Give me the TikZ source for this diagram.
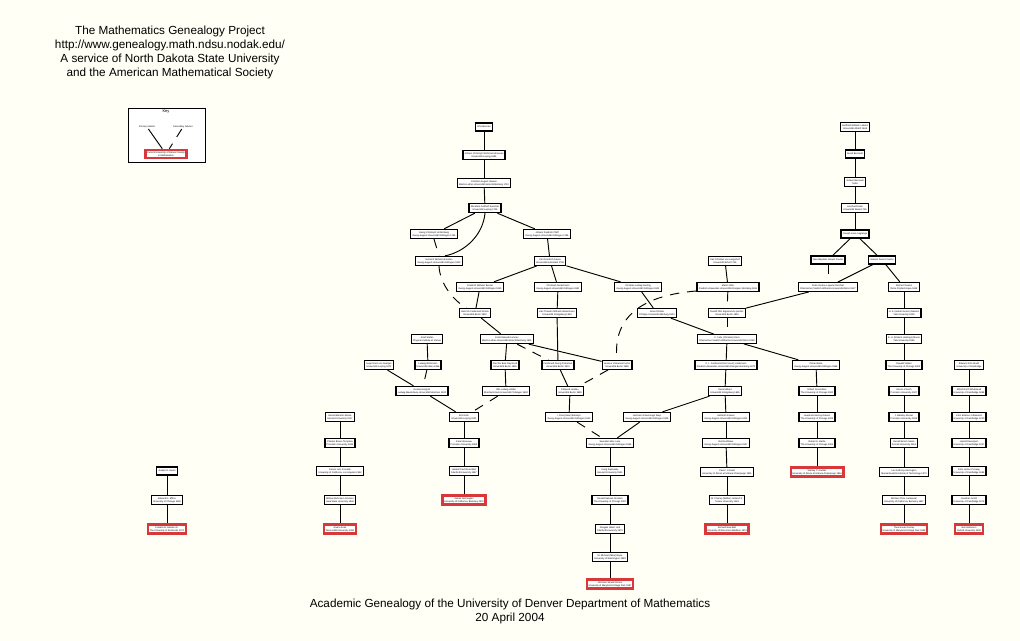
\documentclass[tikz,border=0pt]{standalone}
\usepackage{fontspec}
\setmainfont{Liberation Sans}
\definecolor{bg}{HTML}{FFFFF5}
\definecolor{mgred}{HTML}{D8383A}
\begin{document}
\begin{tikzpicture}[x=0.75pt,y=-0.75pt,
  pn/.style={draw=black,line width=1pt,fill=white,align=center,font=\fontsize{1.75}{2.3}\selectfont,inner xsep=1.3pt,inner ysep=1.4pt,minimum height=6pt},
  rn/.style={pn,draw=mgred,line width=1.6pt},
  ed/.style={line width=0.7pt},
  sd/.style={ed,dash pattern=on 7pt off 6pt},
  ttl/.style={font=\fontsize{8.8}{10.5}\selectfont,align=center,inner sep=0pt}]
\fill[bg] (0,0) rectangle (1020,641);
\useasboundingbox (0,0) rectangle (1020,641);

\node[ttl] (title) at (170,52) {The Mathematics Genealogy Project\\http://www.genealogy.math.ndsu.nodak.edu/\\A service of North Dakota State University\\and the American Mathematical Society};
\node[ttl] (bottom) at (510,611) {Academic Genealogy of the University of Denver Department of Mathematics\\20 April 2004};

% key
\node[draw,line width=0.5pt,fill=white,minimum width=57.75pt,minimum height=40.5pt] (keybox) at (166.5,135) {};
\node[font=\fontsize{3}{3.5}\selectfont,inner sep=0pt] (keyt) at (166,112) {Key};
\node[font=\fontsize{1.75}{2.3}\selectfont,inner sep=0.5pt] (kprim) at (147,127) {Primary Advisor};
\node[font=\fontsize{1.75}{2.3}\selectfont,inner sep=0.5pt] (ksec) at (183,127) {Secondary Advisor};
\node[rn] (kfac) at (166,154) {Current University of Denver Faculty\\in Mathematics};
\draw[ed] (kprim) -- (kfac);
\draw[sd] (ksec) -- (kfac);

% top left column
\node[pn] (mencke) at (484,127) {Otto Mencke};
\node[pn] (wich) at (484,155) {Johann Christoph Wichmannshausen\\Universität Leipzig 1685};
\node[pn] (hausen) at (484,183) {Christian August Hausen\\Martin-Luther-Universität Halle-Wittenberg 1713};
\node[pn] (kaestner) at (485,208) {Abraham Gotthelf Kaestner\\Universität Leipzig 1739};
\node[pn] (lichtenberg) at (434,234) {Georg Christoph Lichtenberg\\Georg-August-Universität Göttingen 1765};
\node[pn] (pfaff) at (547,234) {Johann Friedrich Pfaff\\Georg-August-Universität Göttingen 1786};
\node[pn] (brandes) at (439,261) {Heinrich Wilhelm Brandes\\Georg-August-Universität Göttingen 1800};
\node[pn] (gauss) at (550,261) {Carl Friedrich Gauss\\Universität Helmstedt 1799};
\node[pn] (bessel) at (480,287) {Friedrich Wilhelm Bessel\\Georg-August-Universität Göttingen 1810};
\node[pn] (gudermann) at (558,287) {Christoph Gudermann\\Georg-August-Universität Göttingen 1841};
\node[pn] (gerling) at (638,287) {Christian Ludwig Gerling\\Georg-August-Universität Göttingen 1812};
\node[pn] (scherk) at (475,313) {Heinrich Ferdinand Scherk\\Universität Berlin 1823};
\node[pn] (weierstrass) at (557,313) {Karl Theodor Wilhelm Weierstrass\\Universität Königsberg 1854};
\node[pn] (plucker) at (657,313) {Julius Plücker\\Philipps-Universität Marburg 1823};
\node[pn] (stefan) at (427,339) {Josef Stefan\\Physical Institute at Vienna};
\node[pn] (kummer) at (507,339) {Ernst Eduard Kummer\\Martin-Luther-Universität Halle-Wittenberg 1831};

% right top column
\node[pn] (leibniz) at (855,127) {Gottfried Wilhelm Leibniz\\Universität Altdorf 1666};
\node[pn] (jbern) at (855,154) {Jacob Bernoulli};
\node[pn] (jobern) at (855,182) {Johann Bernoulli\\1694};
\node[pn] (euler) at (855,208) {Leonhard Euler\\Universität Basel 1726};
\node[pn] (lagrange) at (855,234) {Joseph Louis Lagrange};
\node[pn] (fourier) at (828,260) {Jean-Baptiste Joseph Fourier};
\node[pn] (poisson) at (882,260) {Siméon Denis Poisson};
\node[pn] (langsdorf) at (725,261) {Karl Christian von Langsdorf\\Universität Erfurt 1781};
\node[pn] (ohm) at (728,287) {Martin Ohm\\Friedrich-Alexander-Universität Erlangen-Nürnberg 1811};
\node[pn] (dirichlet) at (828,287) {Peter Gustav Lejeune Dirichlet\\Rheinische Friedrich-Wilhelms-Universität Bonn 1827};
\node[pn] (chasles) at (904,287) {Michel Chasles\\École Polytechnique 1814};
\node[pn] (lipschitz) at (727,313) {Rudolf Otto Sigismund Lipschitz\\Universität Berlin 1853};
\node[pn] (newton) at (904,313) {H. A. (Hubert Anson) Newton\\Yale University 1850};
\node[pn] (klein) at (727,339) {C. Felix (Christian) Klein\\Rheinische Friedrich-Wilhelms-Universität Bonn 1868};
\node[pn] (moore) at (904,339) {E. H. (Eliakim Hastings) Moore\\Yale University 1885};

% row 365
\node[pn] (seeliger) at (379,365) {Hugo Hans von Seeliger\\Universität Leipzig 1872};
\node[pn] (boltzmann) at (428,365) {Ludwig Boltzmann\\Universität Wien 1866};
\node[pn] (dubois) at (505,365) {Paul Du Bois-Reymond\\Universität Berlin 1859};
\node[pn] (frobenius) at (558,365) {Ferdinand Georg Frobenius\\Universität Berlin 1870};
\node[pn] (fuchs) at (617,365) {Lazarus Immanuel Fuchs\\Universität Berlin 1858};
\node[pn] (lindemann) at (726,365) {C. L. Ferdinand (Carl Louis) Lindemann\\Friedrich-Alexander-Universität Erlangen-Nürnberg 1873};
\node[pn] (bolza) at (816,365) {Oskar Bolza\\Georg-August-Universität Göttingen 1886};
\node[pn] (veblen) at (904,365) {Oswald Veblen\\The University of Chicago 1903};
\node[pn] (c1) at (969,365) {Edward John Routh\\University of Cambridge};

% row 391
\node[pn] (herglotz) at (422,391) {Gustav Herglotz\\Ludwig-Maximilians-Universität München 1900};
\node[pn] (holder) at (506,391) {Otto Ludwig Hölder\\Eberhard-Karls-Universität Tübingen 1882};
\node[pn] (landau) at (570,391) {Edmund Landau\\Universität Berlin 1899};
\node[pn] (hilbert) at (725,391) {David Hilbert\\Universität Königsberg 1885};
\node[pn] (bliss) at (817,391) {Gilbert Ames Bliss\\The University of Chicago 1900};
\node[pn] (church) at (904,391) {Alonzo Church\\Princeton University 1927};
\node[pn] (c2) at (969,391) {Alfred North Whitehead\\University of Cambridge 1884};

% row 417
\node[pn] (a1) at (340,417) {Harold Marston Morse\\Harvard University 1917};
\node[pn] (artin) at (464,417) {Emil Artin\\Universität Leipzig 1921};
\node[pn] (bernays) at (569,417) {I. Paul (Isaac) Bernays\\Georg-August-Universität Göttingen 1912};
\node[pn] (weyl) at (647,417) {Hermann Klaus Hugo Weyl\\Georg-August-Universität Göttingen 1908};
\node[pn] (kneser) at (726,417) {Hellmuth Kneser\\Georg-August-Universität Göttingen 1921};
\node[pn] (graves) at (817,417) {Lawrence Murray Graves\\The University of Chicago 1924};
\node[pn] (rosser) at (904,417) {J. Barkley Rosser\\Princeton University 1934};
\node[pn] (c3) at (969,417) {John Edensor Littlewood\\University of Cambridge 1910};

% row 443
\node[pn] (a2) at (340,443) {Charles Brown Tompkins\\Princeton University 1935};
\node[pn] (deleeuw) at (464,443) {Karel deLeeuw\\Princeton University 1954};
\node[pn] (maclane) at (610,443) {Saunders Mac Lane\\Georg-August-Universität Göttingen 1934};
\node[pn] (baer) at (726,443) {Reinhold Baer\\Georg-August-Universität Göttingen 1927};
\node[pn] (bartle) at (817,443) {Robert G. Bartle\\The University of Chicago 1951};
\node[pn] (sacks) at (904,443) {Gerald Enoch Sacks\\Cornell University 1961};
\node[pn] (c4) at (969,443) {Harold Davenport\\University of Cambridge 1937};

% row 471
\node[pn] (f1) at (167,471) {Joseph H. Hersh};
\node[pn] (a3) at (340,471) {James Linn Cornette\\University of California, Los Angeles 1962};
\node[pn] (rosenthal) at (464,471) {Haskell Paul Rosenthal\\Stanford University 1967};
\node[pn] (kaplansky) at (610,471) {Irving Kaplansky\\Harvard University 1941};
\node[pn] (conrad) at (727,472) {Paul F. Conrad\\University of Illinois at Urbana-Champaign 1951};
\node[rn] (gudder) at (817,472) {Stanley P. Gudder\\University of Illinois at Urbana-Champaign 1964};
\node[pn] (harrington) at (904,472) {Leo Anthony Harrington\\Massachusetts Institute of Technology 1973};
\node[pn] (c5) at (969,471) {John Horton Conway\\University of Cambridge 1964};

% row 500
\node[pn] (f2) at (167,500) {Edward G. Effros\\University of Chicago 1962};
\node[pn] (a4) at (340,500) {William Buhmann Johnson\\Iowa State University 1969};
\node[rn] (hagler) at (464,500) {James Neil Hagler\\University of California, Berkeley 1972};
\node[pn] (ornstein) at (610,500) {Donald Samuel Ornstein\\The University of Chicago 1957};
\node[pn] (holland) at (727,500) {W. Charles (Wilbur) Holland Jr.\\Tulane University 1961};
\node[pn] (laskowski) at (904,500) {Michael Chris Laskowski\\University of California, Berkeley 1987};
\node[pn] (c6) at (969,500) {Jonathan Smith\\University of Cambridge 1976};

% row 529
\node[rn] (f3) at (167,529) {Franklin B. Gallison Jr.\\The University of Rochester 1971};
\node[rn] (a5) at (340,529) {Alvaro Arias\\Texas A\&M University 1990};
\node[pn] (lind) at (610,529) {Douglas Albert Lind\\Stanford University 1973};
\node[rn] (ball) at (727,529) {Richard Neal Ball\\University of Wisconsin-Madison 1974};
\node[rn] (conley) at (904,529) {Thea Susan Conley\\University of Maryland College Park 1998};
\node[rn] (c7) at (969,529) {Neil Anderson\\Oxford University 1990};

\node[pn] (boyle) at (610,557) {M. Michael (Mike) Boyle\\University of Washington 1983};
\node[rn] (ormes) at (610,584) {Nicholas Strand Ormes\\University of Maryland College Park 1997};

% edges
\draw[ed] (mencke) -- (wich);
\draw[ed] (wich) -- (hausen);
\draw[ed] (hausen) -- (kaestner);
\draw[ed] (kaestner) -- (lichtenberg);
\draw[ed] (kaestner) -- (pfaff);
\draw[ed] (kaestner.south) .. controls (483,235) and (465,252) .. ([xshift=4.5pt]brandes.north);
\draw[sd] (lichtenberg.south) -- (brandes.north);
\draw[ed] (pfaff) -- (gauss);
\draw[ed] (gauss) -- (bessel);
\draw[ed] (gauss) -- (gudermann);
\draw[ed] (gauss) -- (gerling);
\draw[ed] (bessel) -- (scherk);
\draw[sd] (brandes.south) .. controls (440,285) and (455,302) .. ([xshift=-6pt]scherk.north);
\draw[ed] (gudermann) -- (weierstrass);
\draw[ed] (gerling) -- (plucker);
\draw[ed] (scherk) -- (kummer);

\draw[ed] (leibniz) -- (jbern);
\draw[ed] (jbern) -- (jobern);
\draw[ed] (jobern) -- (euler);
\draw[ed] (euler) -- (lagrange);
\draw[ed] (lagrange) -- (fourier);
\draw[ed] (lagrange) -- (poisson);
\draw[sd] (fourier) -- (dirichlet);
\draw[ed] (poisson) -- (dirichlet);
\draw[ed] (poisson) -- (chasles);
\draw[ed] (langsdorf) -- (ohm);
\draw[sd] (ohm) -- (lipschitz);
\draw[ed] (dirichlet) -- (lipschitz);
\draw[sd] ([yshift=-3pt]ohm.west) .. controls (645,295) and (612,315) .. (fuchs.north);
\draw[ed] (chasles) -- (newton);
\draw[ed] (newton) -- (moore);
\draw[ed] (moore) -- (veblen);
\draw[ed] (plucker) -- (klein);
\draw[sd] (lipschitz) -- (klein);

\draw[ed] (stefan) -- (boltzmann);
\draw[ed] (kummer) -- (dubois);
\draw[sd] (kummer) -- (frobenius);
\draw[ed] (kummer) -- (fuchs);
\draw[ed] (weierstrass) -- (frobenius);
\draw[ed] (klein) -- (lindemann);
\draw[ed] (klein) -- (bolza);
\draw[ed] (seeliger) -- (herglotz);
\draw[sd] (boltzmann) -- (herglotz);
\draw[ed] (dubois) -- (holder);
\draw[ed] (frobenius) -- (landau);
\draw[sd] (fuchs) -- (landau);
\draw[ed] (lindemann) -- (hilbert);
\draw[ed] (bolza) -- (bliss);
\draw[ed] (veblen) -- (church);
\draw[ed] (c1) -- (c2);
\draw[ed] (herglotz) -- (artin);
\draw[sd] (holder) -- (artin);
\draw[ed] (landau) -- (bernays);
\draw[ed] (hilbert) -- (weyl);
\draw[ed] (hilbert) -- (kneser);
\draw[ed] (bliss) -- (graves);
\draw[ed] (church) -- (rosser);
\draw[ed] (c2) -- (c3);
\draw[ed] (a1) -- (a2);
\draw[ed] (artin) -- (deleeuw);
\draw[sd] (bernays) -- (maclane);
\draw[ed] (weyl) -- (maclane);
\draw[ed] (kneser) -- (baer);
\draw[ed] (graves) -- (bartle);
\draw[ed] (rosser) -- (sacks);
\draw[ed] (c3) -- (c4);
\draw[ed] (a2) -- (a3);
\draw[ed] (deleeuw) -- (rosenthal);
\draw[ed] (maclane) -- (kaplansky);
\draw[ed] (baer) -- (conrad);
\draw[ed] (bartle) -- (gudder);
\draw[ed] (sacks) -- (harrington);
\draw[ed] (c4) -- (c5);
\draw[ed] (f1) -- (f2);
\draw[ed] (a3) -- (a4);
\draw[ed] (rosenthal) -- (hagler);
\draw[ed] (kaplansky) -- (ornstein);
\draw[ed] (conrad) -- (holland);
\draw[ed] (harrington) -- (laskowski);
\draw[ed] (c5) -- (c6);
\draw[ed] (f2) -- (f3);
\draw[ed] (a4) -- (a5);
\draw[ed] (ornstein) -- (lind);
\draw[ed] (holland) -- (ball);
\draw[ed] (laskowski) -- (conley);
\draw[ed] (c6) -- (c7);
\draw[ed] (lind) -- (boyle);
\draw[ed] (boyle) -- (ormes);
\end{tikzpicture}
\end{document}
